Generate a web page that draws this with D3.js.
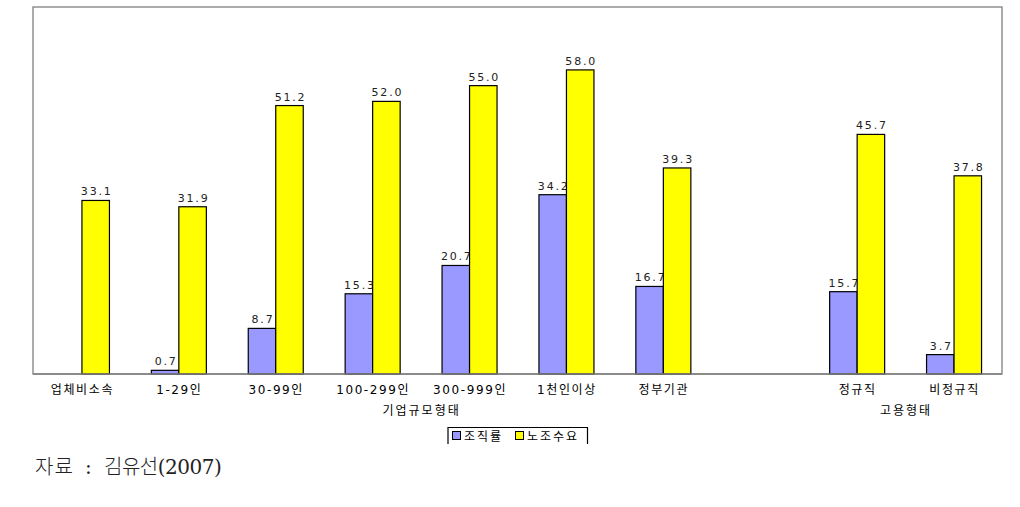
<!DOCTYPE html>
<html><head><meta charset="utf-8">
<script src="https://cdn.jsdelivr.net/npm/d3@7"></script>
<style>body{margin:0;background:#fff;}</style>
</head><body>
<svg id="c" width="1020" height="507"></svg>
<script>
const categories = ["업체비소속","1-29인","30-99인","100-299인","300-999인","1천인이상","정부기관","","정규직","비정규직"];
const seriesNames = ["조직률","노조수요"];
const unionRate = [null,0.7,8.7,15.3,20.7,34.2,16.7,null,15.7,3.7];
const unionDemand = [33.1,31.9,51.2,52.0,55.0,58.0,39.3,null,45.7,37.8];
const groups = [{label:"기업규모형태", from:1, to:6},{label:"고용형태", from:8, to:9}];
const colors = ["#9999FF","#FFFF00"];
const sourceLabel = "자료";
const sourceText = "김유선(2007)";

const svg = d3.select("#c");
const L=33, R=1002, T=7, B=374;
const x = d3.scaleBand().domain(d3.range(categories.length)).range([L,R]).paddingInner(0).paddingOuter(0);
const y = d3.scaleLinear().domain([0,70]).range([B,T]);
const bw = 27.5;
const font = "'DejaVu Sans', 'Noto Sans CJK KR', sans-serif";

svg.append("rect").attr("x",L).attr("y",T).attr("width",R-L).attr("height",B-T)
  .attr("fill","none").attr("stroke","#808080").attr("stroke-width",1.3);

const series = [unionRate, unionDemand];
series.forEach((vals,si)=>{
  const g = svg.append("g");
  vals.forEach((v,i)=>{
    if(v===null) return;
    const cx = x(i)+x.bandwidth()/2 + 0.5;
    const x0 = si===0 ? cx-bw : cx;
    g.append("rect").attr("x",x0).attr("y",y(v)).attr("width",bw).attr("height",B-y(v))
      .attr("fill",colors[si]).attr("stroke","#000").attr("stroke-width",1.2);
    g.append("text").attr("x",x0+bw/2+1).attr("y",y(v)-5).attr("text-anchor","middle")
      .attr("font-family",font).attr("font-size",11).attr("letter-spacing",1.8)
      .attr("fill","#222").text(v.toFixed(1));
  });
});
svg.append("line").attr("x1",L).attr("x2",R).attr("y1",B).attr("y2",B).attr("stroke","#808080").attr("stroke-width",1.3);

categories.forEach((c,i)=>{
  svg.append("text").attr("x",x(i)+x.bandwidth()/2+1).attr("y",394).attr("text-anchor","middle")
    .attr("font-family",font).attr("font-size",12).attr("letter-spacing",1.6).attr("fill","#000").text(c);
});
groups.forEach(gp=>{
  const cx = (x(gp.from)+x(gp.to)+x.bandwidth())/2 + 1;
  svg.append("text").attr("x",cx).attr("y",415).attr("text-anchor","middle")
    .attr("font-family",font).attr("font-size",12).attr("letter-spacing",2).attr("fill","#000").text(gp.label);
});

const lg = svg.append("g");
lg.append("path").attr("d","M448,444 V427.5 H587.5 V444").attr("fill","none").attr("stroke","#000").attr("stroke-width",1.2);
const litems = [{x:452.5,tx:464},{x:515.5,tx:527}];
seriesNames.forEach((n,i)=>{
  lg.append("rect").attr("x",litems[i].x).attr("y",431.5).attr("width",8).attr("height",8)
    .attr("fill",colors[i]).attr("stroke","#000").attr("stroke-width",1);
  lg.append("text").attr("x",litems[i].tx).attr("y",440.5).attr("font-family",font).attr("font-size",12)
    .attr("letter-spacing",2).attr("fill","#000").text(n);
});

const src = svg.append("text").attr("y",474).attr("font-family","'DejaVu Serif','Noto Sans CJK KR', serif")
  .attr("font-weight",300).attr("font-size",20).attr("fill","#222");
src.append("tspan").attr("x",35).attr("letter-spacing",1).text(sourceLabel);
src.append("tspan").attr("x",85).text(":");
src.append("tspan").attr("x",104).attr("letter-spacing",-0.5).text(sourceText);
</script>
</body></html>
